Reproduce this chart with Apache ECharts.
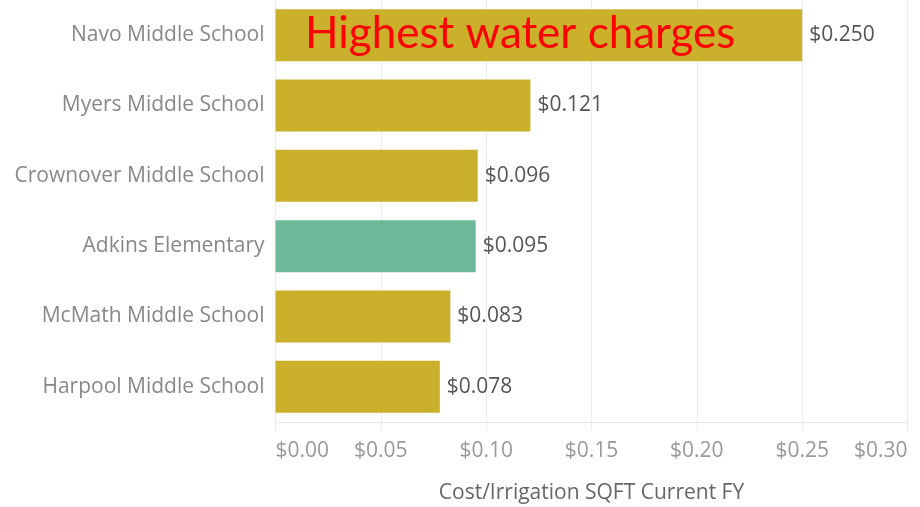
<!DOCTYPE html>
<html>
<head>
<meta charset="utf-8">
<script src="https://cdn.jsdelivr.net/npm/echarts@6/dist/echarts.min.js"></script>
<style>
  html, body { margin: 0; padding: 0; background: #fff; }
  #chart { width: 920px; height: 507px; }
</style>
</head>
<body>
<div id="chart"></div>
<script>
  // schools, top to bottom
  var schools = ['Navo Middle School', 'Myers Middle School', 'Crownover Middle School',
                 'Adkins Elementary', 'McMath Middle School', 'Harpool Middle School'];
  var costs = [0.250, 0.121, 0.096, 0.095, 0.083, 0.078];
  var highlight = 'Adkins Elementary';
  var xTicks = [0, 0.05, 0.10, 0.15, 0.20, 0.25, 0.30];

  var gold = '#CBB02B';
  var green = '#6DB898';

  var myChart = echarts.init(document.getElementById('chart'));
  var option = {
    backgroundColor: '#fff',
    animation: false,
    title: {
      text: 'Highest water charges',
      left: 300,
      top: 7,
      textStyle: { color: '#f00', fontSize: 44, fontWeight: 'normal', fontFamily: 'Lato' }
    },
    grid: { left: 275.5, right: 12.5, top: 0, height: 422, outerBoundsMode: 'none', containLabel: false },
    xAxis: {
      type: 'value',
      min: xTicks[0],
      max: xTicks[xTicks.length - 1],
      interval: 0.05,
      name: 'Cost/Irrigation SQFT Current FY',
      nameLocation: 'middle',
      nameGap: 61,
      nameTextStyle: { color: '#666', fontSize: 21, fontFamily: 'Open Sans' },
      axisLine: { show: true, lineStyle: { color: '#e6e6e6', width: 1 } },
      axisTick: { show: true, length: 8, lineStyle: { color: '#ececec' } },
      splitLine: { show: true, lineStyle: { color: '#ececec', width: 1 } },
      axisLabel: {
        color: '#999',
        fontSize: 21,
        fontFamily: 'Open Sans',
        margin: 19,
        alignMinLabel: 'left',
        alignMaxLabel: 'right',
        formatter: function (v) { return '$' + v.toFixed(2); }
      }
    },
    yAxis: {
      type: 'category',
      inverse: true,
      data: schools,
      axisLine: { show: false },
      axisTick: { show: false },
      axisLabel: { color: '#888', fontSize: 21, fontFamily: 'Open Sans', margin: 11, padding: [7, 0, 0, 0] }
    },
    series: [{
      type: 'bar',
      barWidth: 52,
      data: costs.map(function (v, i) {
        return {
          value: v,
          itemStyle: { color: schools[i] === highlight ? green : gold }
        };
      }),
      label: {
        show: true,
        position: 'right',
        distance: 7,
        color: '#555',
        fontSize: 21,
        fontFamily: 'Open Sans',
        padding: [7, 0, 0, 0],
        formatter: function (p) { return '$' + p.value.toFixed(3); }
      }
    }]
  };
  myChart.setOption(option);
</script>
</body>
</html>
